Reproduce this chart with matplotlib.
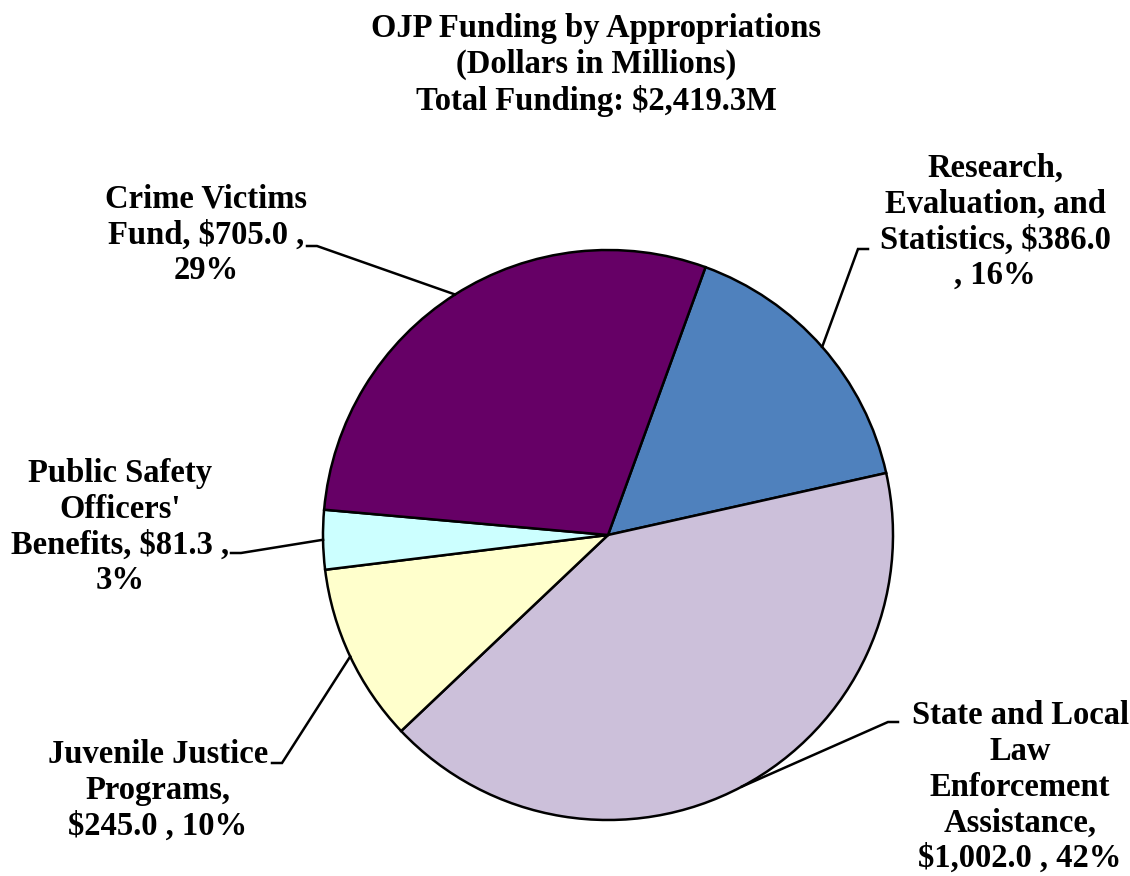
import numpy as np
import matplotlib
matplotlib.use("Agg")
import matplotlib.pyplot as plt

# ------------------------------------------------------
# DATA
# ------------------------------------------------------
categories = [
    "Research,\nEvaluation, and\nStatistics, $386.0\n, 16%",
    "State and Local\nLaw\nEnforcement\nAssistance,\n$1,002.0 , 42%",
    "Juvenile Justice\nPrograms,\n$245.0 , 10%",
    "Public Safety\nOfficers'\nBenefits, $81.3 ,\n3%",
    "Crime Victims\nFund, $705.0 ,\n29%",
]
values = [386.0, 1002.0, 245.0, 81.3, 705.0]
colors = ["#4F81BD", "#CCC0DA", "#FFFFCC", "#CCFFFF", "#660066"]
title = "OJP Funding by Appropriations\n(Dollars in Millions)\nTotal Funding: $2,419.3M"

# ------------------------------------------------------
# LAYOUT (pixel space, y up)
# ------------------------------------------------------
W, H = 1130, 876
CX, CY, R = 608, H - 535, 285
START = 70

# label centre, leader start (end of short tick), tick direction
label_pos = [(995, H - 222), (1020, H - 787), (158, H - 790), (120, H - 527), (206, H - 235)]
leader_start = [(868, H - 249), (898, H - 722), (272, H - 763), (231, H - 553), (307, H - 246)]
tick_dir = [-1, -1, 1, 1, 1]

FONT = "Liberation Serif"
FS = 23.5
LS = 1.2

fig = plt.figure(figsize=(W / 100, H / 100), dpi=100)
ax = fig.add_axes([0, 0, 1, 1])

wedges, _ = ax.pie(
    values,
    colors=colors,
    startangle=START,
    counterclock=False,
    center=(CX, CY),
    radius=R,
    wedgeprops=dict(edgecolor="black", linewidth=1.8),
    frame=True,
)
ax.set_xlim(0, W)
ax.set_ylim(0, H)
ax.set_aspect("equal")
ax.axis("off")

for w, lab, (lx, ly), (sx, sy), d in zip(wedges, categories, label_pos, leader_start, tick_dir):
    ax.text(lx, ly, lab, ha="center", va="center", multialignment="center",
            fontsize=FS, fontweight="bold", family=FONT, linespacing=LS)
    mid = np.deg2rad((w.theta1 + w.theta2) / 2)
    ex, ey = CX + R * np.cos(mid), CY + R * np.sin(mid)
    ax.plot([sx, sx + d * 10, ex], [sy, sy, ey], color="black", linewidth=1.8,
            solid_joinstyle="miter")

ax.text(596, H - 65, title, ha="center", va="center", multialignment="center",
        fontsize=FS, fontweight="bold", family=FONT, linespacing=LS)

fig.savefig("out.png", dpi=100, facecolor="white")
